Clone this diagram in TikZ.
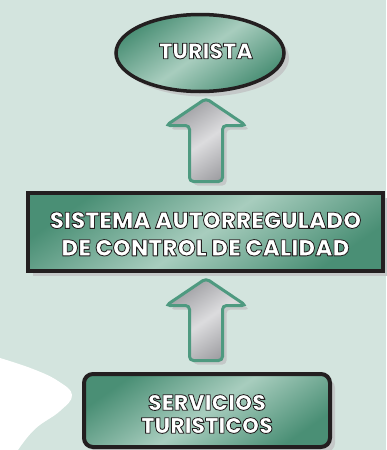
\documentclass[tikz,border=0pt]{standalone}
\usepackage{fontspec}
\setmainfont{Poppins}
\newfontfamily\popx{Poppins}[UprightFont=* ExtraBold]
\usetikzlibrary{calc,shapes.geometric,shadows}
\definecolor{bg}{HTML}{D3E4DE}
\definecolor{gdark}{HTML}{4A8F75}
\definecolor{glight}{HTML}{A8CDBE}
\definecolor{edge}{HTML}{231F20}
\definecolor{shadowc}{HTML}{C4C8C8}
\definecolor{agreen}{HTML}{4E9A80}
\definecolor{adark}{HTML}{9C9CA0}
\definecolor{alight}{HTML}{DCDCDE}
\newcommand\fx[1]{{\color{white}\special{pdf:literal direct 0.137 0.122 0.125 RG 2 Tr 0.85 w 1 j}#1\special{pdf:literal direct 0 Tr}}}
\newcommand\arrowpath[3]{let \p1=(#1), \p2=(#2) in
 (\x1+#3,\y2-#3) -- (\x1+16.5pt+#3,\y2-#3) -- (\x1+16.5pt+#3,\y1-27pt-#3) -- (\x1+40pt+#3,\y1-27pt-#3) -- (\x1+#3,\y1-#3) -- (\x1-40pt+#3,\y1-27pt-#3) -- (\x1-16.5pt+#3,\y1-27pt-#3) -- (\x1-16.5pt+#3,\y2-#3) -- cycle}
\begin{document}
\begin{tikzpicture}[x=1pt,y=-1pt,
  greenshape/.style={draw=edge, line width=4pt, left color=gdark, right color=gdark, middle color=glight, shading angle=35, inner sep=0pt,
    drop shadow={shadow xshift=5pt, shadow yshift=-5pt, fill=shadowc, opacity=1}},
  label/.style={font=\fontsize{22}{28}\selectfont\popx, align=center, inner sep=0pt},
  arrowshadow/.style={fill=shadowc, rounded corners=4pt},
  blockarrow/.style={draw=agreen, line width=3pt, left color=adark, right color=adark, middle color=alight, shading angle=35, rounded corners=4pt}]
\useasboundingbox (0,0) rectangle (386,450);
\fill[bg] (0,0) rectangle (386,450);
\fill[white] plot[smooth, tension=0.7] coordinates {(0,358) (33,369) (58,381) (72,395) (60,411) (35,429) (18,450)} -- (0,450) -- cycle;

\node[greenshape, ellipse, line width=3.5pt, minimum width=168pt, minimum height=77pt] (tur) at (200,53) {};
\node[label] (turt) at (206,51) {\fx{TURISTA}};

\node[greenshape, rectangle, minimum width=355pt, minimum height=78pt] (sis) at (205.5,232) {};
\node[label, font=\fontsize{23}{27.5}\selectfont\popx] (sist) at (205.5,234) {\fx{SISTEMA AUTORREGULADO}\\\fx{DE CONTROL DE CALIDAD}};

\node[greenshape, rectangle, rounded corners=9pt, minimum width=246pt, minimum height=73pt] (ser) at (207,410.5) {};
\node[label, font=\fontsize{22}{23}\selectfont\popx] (sert) at (207,414) {\fx{SERVICIOS}\\\fx{TURISTICOS}};

\coordinate (a1tip) at (206,98.5);
\coordinate (a1tail) at (206,181.5);
\coordinate (a2tip) at (206,278.5);
\coordinate (a2tail) at (206,360.5);

\fill[arrowshadow] \arrowpath{a1tip}{a1tail}{4pt};
\shadedraw[blockarrow] \arrowpath{a1tip}{a1tail}{0pt};
\fill[arrowshadow] \arrowpath{a2tip}{a2tail}{4pt};
\shadedraw[blockarrow] \arrowpath{a2tip}{a2tail}{0pt};
\end{tikzpicture}
\end{document}
